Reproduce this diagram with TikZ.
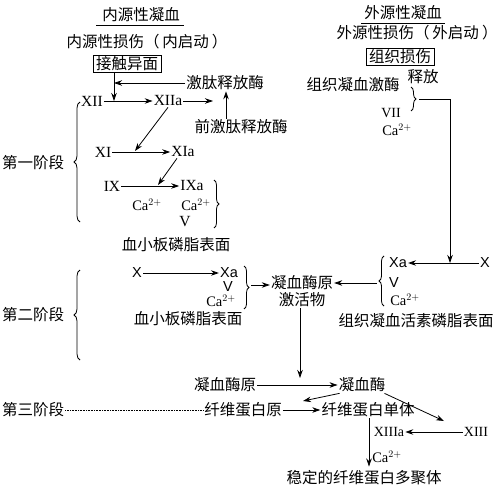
\documentclass[tikz,border=0pt]{standalone}
\usepackage{fontspec}
\setmainfont{Liberation Serif}
\newfontfamily\cjk{Noto Sans CJK SC}
\newfontfamily\lsans{Liberation Sans}
\usetikzlibrary{arrows.meta,decorations.pathreplacing}
\begin{document}
\begin{tikzpicture}[x=1pt,y=-1pt,
  zh/.style={font=\cjk\fontsize{15.5}{17}\selectfont, inner sep=1pt},
  la/.style={font=\fontsize{15.5}{17}\selectfont, inner sep=1pt},
  sm/.style={font=\fontsize{14.5}{16}\selectfont, inner sep=1pt},
  sx/.style={font=\fontsize{14}{16}\selectfont, inner sep=1pt},
  sa/.style={font=\lsans\fontsize{14.5}{16}\selectfont, inner sep=1pt},
  ln/.style={line width=0.8pt},
  arr/.style={ln, -{Stealth[length=8pt,width=5.5pt]}},
  brc/.style={ln, decorate, decoration={brace, amplitude=5pt}},
  boxed/.style={draw, line width=0.9pt, inner xsep=3pt, inner ysep=1.5pt},
]
\useasboundingbox (0,0) rectangle (500,489);

% ---------- intrinsic header ----------
\node[zh] (intitle) at (141,15) {内源性凝血};
\draw[ln] ([xshift=-5pt,yshift=-2pt]intitle.south west) -- ([xshift=3pt,yshift=-2pt]intitle.south east);
\node[zh] (inhurt) at (147,42) {内源性损伤（\hspace{3pt}内启动\hspace{3pt}）};
\node[zh, boxed] (contact) at (127,64) {接触异面};

% ---------- stage 1 ----------
\node[la] (xii) at (92,101) {XII};
\node[la] (xiia) at (168,101) {XIIa};
\node[zh] (kal) at (225,83) {激肽释放酶};
\node[zh] (prekal) at (241,127) {前激肽释放酶};
\coordinate (j1) at (114,101);
\coordinate (k1) at (114,83);
\coordinate (e1) at (213,101);
\coordinate (ux) at (226,0);
\draw[arr] (contact.south -| j1) -- (j1);
\draw[arr] (kal.west) -- (k1);
\draw[arr] (xii) -- (xiia);
\draw[arr] (xiia) -- (e1);
\draw[arr] (prekal.north -| ux) -- (kal.south -| ux);

\node[la] (xi) at (103,152) {XI};
\node[la] (xia) at (183,152) {XIa};
\draw[arr] (xi) -- (xia);
\coordinate (m1) at (135,151);
\draw[arr] (xiia.south) -- (m1);

\node[la] (ix) at (112,186) {IX};
\node[la] (ixa) at (192,186) {IXa};
\draw[arr] (ix) -- (ixa);
\coordinate (m2) at (158,185);
\draw[arr] ([xshift=-6pt]xia.south) -- (m2);

\node[sm] (ca1) at (147,205) {Ca$^{2+}$};
\node[sm] (ca2) at (196,205) {Ca$^{2+}$};
\node[la] (v1) at (185,222) {V};
\draw[brc] (214,180) -- (214,228);
\node[zh] (plat1) at (176,245) {血小板磷脂表面};

\node[zh] (s1) at (33,163) {第一阶段};
\draw[brc, decoration={amplitude=6pt}] (80,222) -- (80,102);

% ---------- extrinsic header ----------
\node[zh] (extitle) at (403,13) {外源性凝血};
\draw[ln] ([xshift=-2pt,yshift=-2pt]extitle.south west) -- ([xshift=2pt,yshift=-2pt]extitle.south east);
\node[zh] (exhurt) at (417,33) {外源性损伤（\hspace{3pt}外启动\hspace{3pt}）};
\node[zh, boxed] (tisdmg) at (400,57) {组织损伤};
\node[zh] (tf) at (353,85) {组织凝血激酶};
\node[zh] (rel) at (423,77) {释放};
\node[sx] (vii) at (391,113) {VII};
\node[sm] (ca5) at (397,130) {Ca$^{2+}$};
\draw[brc] (411,87) -- (411,111);
\coordinate (c1) at (419,99);
\coordinate (c2) at (450,99);

% ---------- stage 2 ----------
\node[sa] (x2) at (137,273) {X};
\node[sa] (xa2) at (229,273) {Xa};
\draw[arr] (x2) -- (xa2);
\node[sa] (v2) at (228,287) {V};
\node[sm] (ca3) at (221,301) {Ca$^{2+}$};
\draw[brc] (244,266) -- (244,309);
\node[zh] (plat2) at (188,319) {血小板磷脂表面};

\node[zh, align=center] (act) at (302,291) {凝血酶原\\激活物};
\coordinate (b2) at (251,285);
\draw[arr] (b2) -- (act.west |- b2);

\node[sa] (xa3) at (398,263) {Xa};
\node[sa] (v3) at (394,283) {V};
\node[sm] (ca4) at (405,300) {Ca$^{2+}$};
\node[sa] (x3) at (485,263) {X};
\draw[arr] (x3) -- (xa3);
\draw[brc] (384,306) -- (384,256);
\coordinate (b3) at (377,283);
\draw[arr] (b3) -- (act.east |- b3);
\node[zh] (tissue) at (416,321) {组织凝血活素磷脂表面};
\draw[arr] (c1) -- (c2) -- (c2 |- x3);

\node[zh] (s2) at (33,315) {第二阶段};
\draw[brc, decoration={amplitude=6pt}] (80,360) -- (80,270);

% ---------- stage 3 ----------
\node[zh] (s3) at (33,410) {第三阶段};
\node[zh] (pro) at (225,385) {凝血酶原};
\node[zh] (thr) at (362,385) {凝血酶};
\coordinate (v3end) at (300,378);
\draw[arr] (act.south -| v3end) -- (v3end);
\draw[arr] (pro) -- (thr);
\node[zh] (fbg) at (243,410) {纤维蛋白原};
\node[zh] (fbm) at (368,410) {纤维蛋白单体};
\draw[arr] (fbg) -- (fbm);
\draw[line width=0.6pt, densely dotted] (s3) -- (fbg);
\coordinate (m3) at (303,401);
\coordinate (m4) at (444,421);
\draw[arr] ([xshift=2pt]thr.south west) -- (m3);
\draw[arr] ([xshift=-2pt]thr.south east) -- (m4);
\node[sx] (xiiia) at (389,432) {XIIIa};
\node[sx] (xiii) at (476,432) {XIII};
\draw[arr] (xiii) -- (xiiia);
\node[zh] (poly) at (364,478) {稳定的纤维蛋白多聚体};
\coordinate (px) at (369,0);
\draw[arr] (fbm.south -| px) -- ([yshift=3pt]poly.north -| px);
\node[sm] (ca6) at (387,457) {Ca$^{2+}$};
\end{tikzpicture}
\end{document}
